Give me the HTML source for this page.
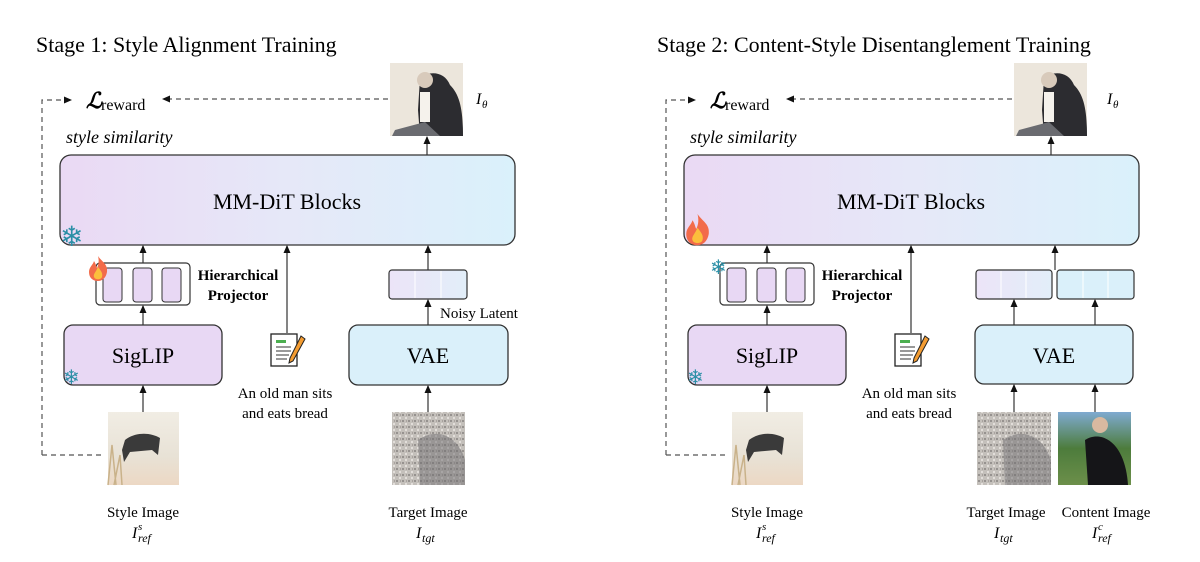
<!DOCTYPE html>
<html><head><meta charset="utf-8"><style>
html,body{margin:0;padding:0;background:#fff;}
svg{display:block;font-family:"Liberation Serif",serif;}
</style></head><body>
<svg width="1200" height="562" viewBox="0 0 1200 562" xmlns="http://www.w3.org/2000/svg">
<defs>
<linearGradient id="mm" x1="0" x2="1" y1="0" y2="0"><stop offset="0" stop-color="#ead9f4"/><stop offset="0.5" stop-color="#e6e8f8"/><stop offset="1" stop-color="#daf1fb"/></linearGradient>
<linearGradient id="lat" x1="0" x2="1"><stop offset="0" stop-color="#ece4f8"/><stop offset="1" stop-color="#e2eef9"/></linearGradient>
<linearGradient id="sty" x1="0" y1="0" x2="0" y2="1"><stop offset="0" stop-color="#f1ede4"/><stop offset="0.6" stop-color="#e8e2d6"/><stop offset="1" stop-color="#ecd8c4"/></linearGradient>
<linearGradient id="cont" x1="0" y1="0" x2="0" y2="1"><stop offset="0" stop-color="#7faad0"/><stop offset="0.5" stop-color="#4d7c3c"/><stop offset="1" stop-color="#6c8f4a"/></linearGradient>
<pattern id="noise" width="6" height="6" patternUnits="userSpaceOnUse"><rect width="6" height="6" fill="#c4c0bb"/><rect x="0" y="0" width="2" height="2" fill="#96928f"/><rect x="3" y="3" width="2" height="2" fill="#e2deda"/><rect x="4" y="0" width="1" height="2" fill="#a8a29e"/></pattern>
<marker id="ar" markerWidth="8" markerHeight="8" refX="7" refY="4" orient="auto" markerUnits="userSpaceOnUse"><path d="M0,0.5 L8,4 L0,7.5 z" fill="#111"/></marker>
<g id="snow"><text font-family="DejaVu Sans,sans-serif" font-size="28" fill="#2b8fa6">❄</text></g>
<g id="snows"><text font-family="DejaVu Sans,sans-serif" font-size="20" fill="#2b8fa6">❄</text></g>
<g id="flame"><path d="M10,0 C14,6 20,8 19,16 C18,22 14,25 10,25 C5,25 1,22 1,16 C1,11 5,9 6,5 C8,8 8,10 9,12 C11,8 11,4 10,0 z" fill="#f26b4a"/><path d="M10,11 C13,15 15,17 14,21 C13,24 7,24 6,21 C5,18 8,16 10,11 z" fill="#fbbf3c"/></g>
<g id="doc"><rect x="0" y="0" width="26" height="32" fill="#fff" stroke="#222" stroke-width="1.3"/><rect x="5" y="6" width="10" height="3" fill="#4caf50"/><line x1="5" y1="13" x2="20" y2="13" stroke="#333"/><line x1="5" y1="17" x2="20" y2="17" stroke="#333"/><line x1="5" y1="21" x2="18" y2="21" stroke="#333"/><line x1="5" y1="25" x2="16" y2="25" stroke="#333"/><path d="M30,2 L34,5 L22,27 L18,29 L19,24 z" fill="#f39c32" stroke="#222" stroke-width="1"/></g>
<g id="common">
<path d="M42,455 L105,455" stroke="#555" stroke-dasharray="5,4" fill="none" stroke-width="1.2"/>
<path d="M42,455 L42,100 L71,100" stroke="#555" stroke-dasharray="5,4" fill="none" stroke-width="1.2" marker-end="url(#ar)"/>
<path d="M388,99 L163,99" stroke="#555" stroke-dasharray="5,4" fill="none" stroke-width="1.2" marker-end="url(#ar)"/>
<text x="86" y="108" font-size="22" font-style="italic" font-weight="bold">ℒ</text><text x="101" y="110" font-size="16">reward</text>
<text x="66" y="143" font-size="18" font-style="italic">style similarity</text>
<rect x="390" y="63" width="73" height="73" fill="#ece6dc"/>
<path d="M420,78 C430,70 445,72 450,85 C460,95 463,110 463,136 L420,136 L418,110 z" fill="#2c2c30"/>
<circle cx="425" cy="80" r="8" fill="#d8cabb"/><rect x="420" y="92" width="10" height="30" fill="#f5f2ec"/>
<path d="M395,130 L425,122 L440,136 L392,136 z" fill="#6a6b70"/>
<rect x="60" y="155" width="455" height="90" rx="11" fill="url(#mm)" stroke="#333" stroke-width="1.3"/>
<text x="287" y="209" font-size="22" text-anchor="middle">MM-DiT Blocks</text>
<line x1="427" y1="155" x2="427" y2="137" stroke="#333" stroke-width="1.2" marker-end="url(#ar)"/>
<rect x="96" y="263" width="94" height="42" rx="4" fill="#fff" stroke="#333" stroke-width="1.2"/>
<rect x="103" y="268" width="19" height="34" rx="3" fill="#e8d8f4" stroke="#333"/>
<rect x="133" y="268" width="19" height="34" rx="3" fill="#e8d8f4" stroke="#333"/>
<rect x="162" y="268" width="19" height="34" rx="3" fill="#e8d8f4" stroke="#333"/>
<text x="238" y="280" font-size="15" font-weight="bold" text-anchor="middle">Hierarchical</text>
<text x="238" y="300" font-size="15" font-weight="bold" text-anchor="middle">Projector</text>
<line x1="143" y1="263" x2="143" y2="246" stroke="#333" stroke-width="1.2" marker-end="url(#ar)"/>
<rect x="64" y="325" width="158" height="60" rx="9" fill="#e8d8f4" stroke="#333" stroke-width="1.3"/>
<text x="143" y="363" font-size="22" text-anchor="middle">SigLIP</text>
<line x1="143" y1="325" x2="143" y2="306" stroke="#333" stroke-width="1.2" marker-end="url(#ar)"/>
<use href="#snows" x="63" y="384"/>
<line x1="143" y1="412" x2="143" y2="386" stroke="#333" stroke-width="1.2" marker-end="url(#ar)"/>
<rect x="108" y="412" width="71" height="73" fill="url(#sty)"/>
<path d="M125,440 C135,432 150,432 160,438 L158,455 L152,450 L130,452 L124,462 L122,450 z" fill="#3a3a3a"/>
<path d="M108,485 L112,445 L116,485 M114,485 L120,455 L122,485" stroke="#c9b28a" stroke-width="1.5" fill="none"/>
<text x="143" y="517" font-size="15" text-anchor="middle">Style Image</text>
<text x="132" y="538" font-size="16" font-style="italic">I</text><text x="138" y="530" font-size="11" font-style="italic">s</text><text x="138" y="542" font-size="12" font-style="italic">ref</text>
<use href="#doc" x="271" y="334"/>
<line x1="287" y1="333" x2="287" y2="246" stroke="#333" stroke-width="1.2" marker-end="url(#ar)"/>
<text x="285" y="398" font-size="15" text-anchor="middle">An old man sits</text>
<text x="285" y="418" font-size="15" text-anchor="middle">and eats bread</text>
</g>
</defs>

<text x="36" y="52" font-size="22">Stage 1: Style Alignment Training</text>
<use href="#common"/>
<use href="#snow" x="60" y="246"/>
<use href="#flame" x="88" y="256"/>
<rect x="389" y="270" width="78" height="29" rx="3" fill="url(#lat)" stroke="#333" stroke-width="1.2"/>
<line x1="415" y1="271" x2="415" y2="298" stroke="#fff"/><line x1="441" y1="271" x2="441" y2="298" stroke="#fff"/>
<line x1="428" y1="270" x2="428" y2="246" stroke="#333" stroke-width="1.2" marker-end="url(#ar)"/>
<line x1="428" y1="325" x2="428" y2="300" stroke="#333" stroke-width="1.2" marker-end="url(#ar)"/>
<text x="440" y="318" font-size="15">Noisy Latent</text>
<rect x="349" y="325" width="159" height="60" rx="9" fill="#daf0fa" stroke="#333" stroke-width="1.3"/>
<text x="428" y="363" font-size="22" text-anchor="middle">VAE</text>
<line x1="428" y1="412" x2="428" y2="386" stroke="#333" stroke-width="1.2" marker-end="url(#ar)"/>
<rect x="392" y="412" width="73" height="73" fill="url(#noise)"/>
<path d="M418,440 C440,425 460,440 465,460 L465,485 L420,485 z" fill="#6d6c70" opacity="0.5"/>
<text x="428" y="517" font-size="15" text-anchor="middle">Target Image</text>
<text x="416" y="538" font-size="16" font-style="italic">I</text><text x="422" y="542" font-size="12" font-style="italic">tgt</text>
<text x="476" y="104" font-size="16" font-style="italic">I</text><text x="482" y="108" font-size="11" font-style="italic">θ</text>

<text x="657" y="52" font-size="22">Stage 2: Content-Style Disentanglement Training</text>
<g transform="translate(624,0)"><use href="#common"/></g>
<g transform="translate(685,214) scale(1.25)"><use href="#flame"/></g>
<use href="#snows" x="710" y="274"/>
<rect x="976" y="270" width="76" height="29" rx="3" fill="url(#lat)" stroke="#333" stroke-width="1.2"/>
<line x1="1001" y1="271" x2="1001" y2="298" stroke="#fff"/><line x1="1026" y1="271" x2="1026" y2="298" stroke="#fff"/>
<rect x="1057" y="270" width="77" height="29" rx="3" fill="#daf0fa" stroke="#333" stroke-width="1.2"/>
<line x1="1083" y1="271" x2="1083" y2="298" stroke="#fff"/><line x1="1108" y1="271" x2="1108" y2="298" stroke="#fff"/>
<line x1="1055" y1="270" x2="1055" y2="246" stroke="#333" stroke-width="1.2" marker-end="url(#ar)"/>
<line x1="1014" y1="325" x2="1014" y2="300" stroke="#333" stroke-width="1.2" marker-end="url(#ar)"/>
<line x1="1095" y1="325" x2="1095" y2="300" stroke="#333" stroke-width="1.2" marker-end="url(#ar)"/>
<rect x="975" y="325" width="158" height="59" rx="9" fill="#daf0fa" stroke="#333" stroke-width="1.3"/>
<text x="1054" y="363" font-size="22" text-anchor="middle">VAE</text>
<line x1="1014" y1="412" x2="1014" y2="385" stroke="#333" stroke-width="1.2" marker-end="url(#ar)"/>
<line x1="1095" y1="412" x2="1095" y2="385" stroke="#333" stroke-width="1.2" marker-end="url(#ar)"/>
<rect x="977" y="412" width="74" height="73" fill="url(#noise)"/>
<path d="M1003,440 C1025,425 1045,440 1051,460 L1051,485 L1005,485 z" fill="#6d6c70" opacity="0.5"/>
<rect x="1058" y="412" width="73" height="73" fill="url(#cont)"/>
<path d="M1085,440 C1100,430 1125,440 1128,485 L1088,485 z" fill="#151518"/>
<circle cx="1100" cy="425" r="8" fill="#d9b9a0"/>
<text x="1006" y="517" font-size="15" text-anchor="middle">Target Image</text>
<text x="994" y="538" font-size="16" font-style="italic">I</text><text x="1000" y="542" font-size="12" font-style="italic">tgt</text>
<text x="1106" y="517" font-size="15" text-anchor="middle">Content Image</text>
<text x="1092" y="538" font-size="16" font-style="italic">I</text><text x="1098" y="530" font-size="11" font-style="italic">c</text><text x="1098" y="542" font-size="12" font-style="italic">ref</text>
<text x="1107" y="104" font-size="16" font-style="italic">I</text><text x="1113" y="108" font-size="11" font-style="italic">θ</text>
</svg>
</body></html>
